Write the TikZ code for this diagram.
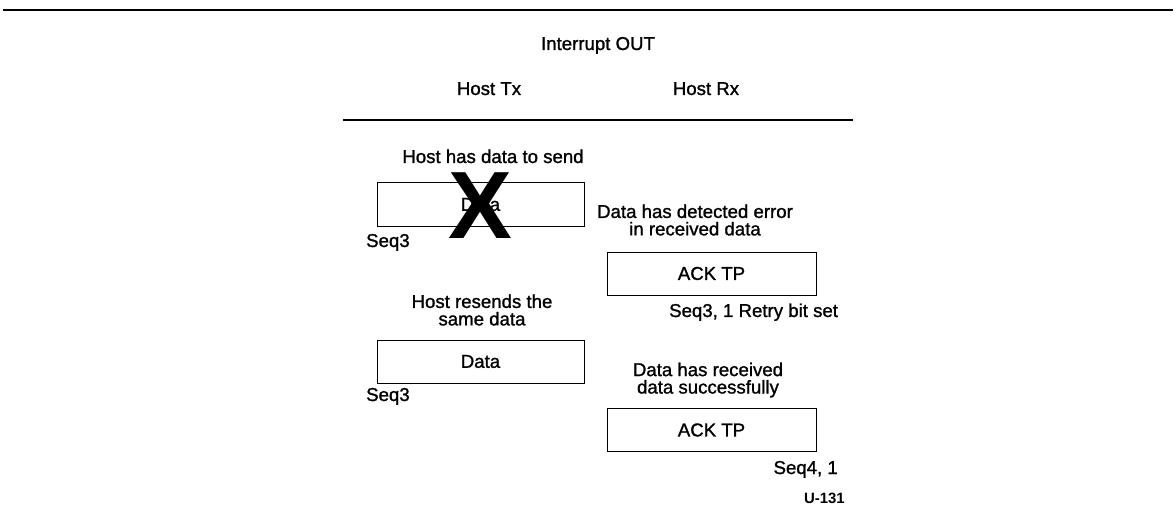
\documentclass[tikz,border=0pt]{standalone}
\usepackage{fontspec}
\setmainfont{Liberation Sans}
\newfontfamily\heavyfont[FakeBold=1.2]{Liberation Sans}
\begin{document}
\begin{tikzpicture}[x=1bp,y=-1bp,
  lbl/.style={inner sep=0pt, font=\heavyfont\fontsize{18.7}{17.5}\selectfont, align=center},
  boxnode/.style={draw, line width=1pt, inner sep=0pt, minimum width=207bp, minimum height=43bp, font=\heavyfont\fontsize{18.7}{18}\selectfont},
  rule/.style={line width=1.2pt}]
\useasboundingbox (0,0) rectangle (1176,520);
\coordinate (t1) at (3,10); \coordinate (t2) at (1173,10);
\draw[line width=2pt] (t1) -- (t2);
\node[lbl, anchor=base] (title) at (598,50) {Interrupt OUT};
\node[lbl, anchor=base] (htx) at (489,95) {Host Tx};
\node[lbl, anchor=base] (hrx) at (706,95) {Host Rx};
\coordinate (r1) at (343,120); \coordinate (r2) at (853,120);
\draw[rule] (r1) -- (r2);
% first send
\node[lbl, anchor=base] (l1) at (493,163) {Host has data to send};
\node[boxnode] (d1) at (480.5,204.5) {Data};
\node[inner sep=0pt, anchor=base, font=\fontsize{96}{96}\selectfont\bfseries] (x1) at (480,239) {X};
\node[lbl, anchor=base west] (s1) at (366,247) {Seq3};
% ack 1
\node[lbl] (l2) at (695,220) {Data has detected error\\in received data};
\node[boxnode, minimum width=209bp] (a1) at (711.5,273.5) {ACK TP};
\node[lbl, anchor=base west] (s2) at (669,317) {Seq3, 1 Retry bit set};
% resend
\node[lbl] (l3) at (482,310) {Host resends the\\same data};
\node[boxnode] (d2) at (480.5,361.5) {Data};
\node[lbl, anchor=base west] (s3) at (366,401) {Seq3};
% ack 2
\node[lbl] (l4) at (708,380) {Data has received\\data successfully};
\node[boxnode, minimum width=209bp] (a2) at (711.5,430) {ACK TP};
\node[lbl, anchor=base east] (s4) at (838,474) {Seq4, 1};
\node[inner sep=0pt, anchor=base east, font=\fontsize{15}{15}\selectfont\bfseries] (fig) at (845,503) {U-131};
\end{tikzpicture}
\end{document}
